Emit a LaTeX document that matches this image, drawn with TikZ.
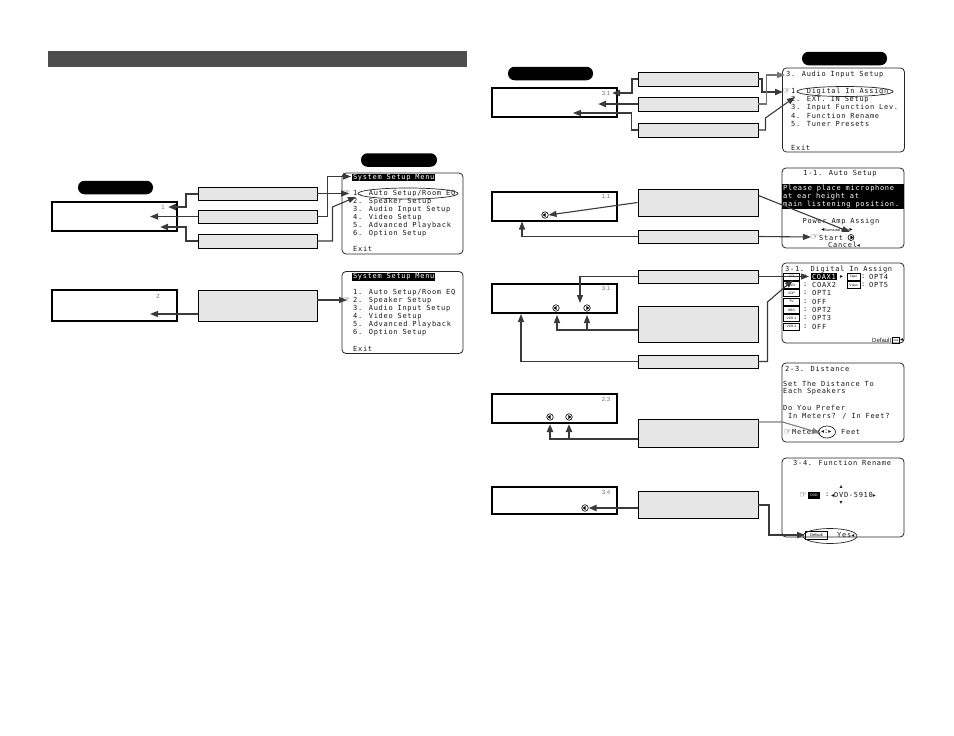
\documentclass[tikz,border=0pt]{standalone}
\usepackage{fontspec}
\setmainfont{Liberation Sans}
\setsansfont{Liberation Sans}
\newfontfamily\scr[LetterSpace=10]{DejaVu Sans Mono}
\newfontfamily\sym{DejaVu Sans}
\usetikzlibrary{arrows.meta,shapes.geometric,calc}
\definecolor{bar}{HTML}{4D4D4D}
\definecolor{boxgray}{HTML}{E6E6E6}
\definecolor{conn}{HTML}{3A3A3A}
\newcommand\myhand{{\sym\fontsize{8}{8}\selectfont ☞}}
\newcommand\mytri[1]{{\sym\fontsize{6}{6}\selectfont #1}}
\tikzset{
 gbox/.style={draw=black, fill=boxgray, line width=0.9pt, minimum width=120pt, inner sep=0},
 disp/.style={draw=black, fill=white, line width=1.1pt, minimum width=125pt, inner sep=0},
 pill/.style={fill=black, rounded corners=6.5pt, inner sep=0, minimum height=13.5pt},
 menu/.style={draw=black!85, line width=0.8pt, rounded corners=4pt, fill=white, minimum width=122pt, inner sep=0},
 st/.style={font=\scr\fontsize{7}{8}\selectfont, anchor=west, inner sep=0, text=black!90},
 stc/.style={st, anchor=center},
 hand/.style={anchor=west, inner sep=0, text=black},
 inv/.style={st, fill=black, text=white, inner xsep=0.8pt, inner ysep=0.6pt},
 num/.style={font=\sffamily\fontsize{6}{6}\selectfont, text=black!55, inner sep=0},
 lab/.style={draw=black, line width=0.5pt, font=\sffamily\fontsize{3.3}{4}\selectfont, inner sep=0, minimum width=16pt, minimum height=7pt},
 oval/.style={ellipse, draw=black!85, line width=0.7pt, inner sep=0},
 cthin/.style={draw=conn, line width=1.1pt, -{Triangle[length=8pt,width=6pt]}},
 cthick/.style={draw=conn, line width=2pt, -{Triangle[length=8pt,width=6pt]}},
 iconL/.style={circle, draw=black, line width=0.6pt, minimum size=6.5pt, inner sep=0, fill=white,
   path picture={\fill[black] (path picture bounding box.center) ++(-2.4pt,0) -- ++(3pt,2pt) -- ++(0,-4pt) -- cycle;}},
 iconR/.style={circle, draw=black, line width=0.6pt, minimum size=6.5pt, inner sep=0, fill=white,
   path picture={\fill[black] (path picture bounding box.center) ++(2.4pt,0) -- ++(-3pt,2pt) -- ++(0,-4pt) -- cycle;}},
}
\begin{document}
\begin{tikzpicture}[x=1pt,y=-1pt]
\useasboundingbox (0,0) rectangle (954,736);
\fill[white] (0,0) rectangle (954,736);
% title bar
\node[fill=bar, minimum width=419pt, minimum height=16pt, inner sep=0] (bar) at (257.5,59) {};
% pills
\node[pill, minimum width=76pt] (p1) at (399,160) {};
\node[pill, minimum width=75pt] (p2) at (115.5,187.5) {};
\node[pill, minimum width=85pt] (p3) at (844.5,58.5) {};
\node[pill, minimum width=85pt] (p4) at (550.5,73.5) {};
% displays
\node[disp, minimum height=29pt] (d1) at (114.5,216.5) {};
\node[disp, minimum height=31pt] (d2) at (114.5,305.5) {};
\node[disp, minimum height=29pt] (d3) at (554.5,102.5) {};
\node[disp, minimum height=29pt] (d4) at (554.5,206.5) {};
\node[disp, minimum height=29pt] (d5) at (554.5,298.5) {};
\node[disp, minimum height=29pt] (d6) at (554.5,408.5) {};
\node[disp, minimum height=27pt] (d7) at (554.5,500.5) {};
\node[num] (n1) at (163,207) {1};
\node[num] (n2) at (158,296) {2};
\node[num] (n3) at (606,93) {3.1};
\node[num] (n4) at (606,196) {1.1};
\node[num] (n5) at (606,288.5) {3.1};
\node[num] (n6) at (606,399) {2.3};
\node[num] (n7) at (606,492) {3.4};
% icons in displays
\node[iconL] (ic41) at (545,215) {};
\node[iconL] (ic51) at (556,308) {};
\node[iconR] (ic52) at (587,308) {};
\node[iconL] (ic61) at (550,417) {};
\node[iconR] (ic62) at (569,417) {};
\node[iconL] (ic71) at (585,508) {};
% gray boxes
\node[gbox, minimum width=119pt, minimum height=13pt] (g1a) at (257.5,193.5) {};
\node[gbox, minimum width=119pt, minimum height=13pt] (g1b) at (257.5,216.5) {};
\node[gbox, minimum width=119pt, minimum height=14pt] (g1c) at (257.5,241) {};
\node[gbox, minimum width=119pt, minimum height=31pt] (g2) at (257.5,305.5) {};
\node[gbox, minimum height=14pt] (g3a) at (698,79) {};
\node[gbox, minimum height=14pt] (g3b) at (698,104) {};
\node[gbox, minimum height=14pt] (g3c) at (698,130) {};
\node[gbox, minimum height=27pt] (g4a) at (698,202.5) {};
\node[gbox, minimum height=13pt] (g4b) at (698,236.5) {};
\node[gbox, minimum height=13pt] (g5a) at (698,276.5) {};
\node[gbox, minimum height=36pt] (g5b) at (698,324) {};
\node[gbox, minimum height=13pt] (g5c) at (698,361.5) {};
\node[gbox, minimum height=28pt] (g6) at (698,433) {};
\node[gbox, minimum height=27pt] (g7) at (698,504.5) {};
% menu frames
\node[menu, minimum width=121pt, minimum height=81pt] (m1) at (402.5,213.5) {};
\node[menu, minimum width=121pt, minimum height=82pt] (m2) at (402.5,312.5) {};
\node[menu, minimum height=84pt] (m3) at (843.5,110) {};
\node[menu, minimum height=80pt] (m4) at (843,208) {};
\node[menu, minimum height=80pt] (m5) at (843,303) {};
\node[menu, minimum height=79pt] (m6) at (843,402.5) {};
\node[menu, minimum height=79pt] (m7) at (843,497.5) {};
% menu 1
\node[inv] (m1t) at (352,177.5) {System Setup Menu};
\node[hand] (m1h) at (343,193.5) {\myhand};
\node[st] (m1a) at (353,193.5) {1. Auto Setup/Room EQ};
\node[oval, minimum width=100pt, minimum height=11pt] (m1o) at (408,193.5) {};
\node[st] (m1b) at (353,201.5) {2. Speaker Setup};
\node[st] (m1c) at (353,210) {3. Audio Input Setup};
\node[st] (m1d) at (353,218) {4. Video Setup};
\node[st] (m1e) at (353,226) {5. Advanced Playback};
\node[st] (m1f) at (353,234) {6. Option Setup};
\node[st] (m1x) at (353,249) {Exit};
% menu 2
\node[inv] (m2t) at (352,277) {System Setup Menu};
\node[st] (m2a) at (353,292.5) {1. Auto Setup/Room EQ};
\node[hand] (m2h) at (343,300.5) {\myhand};
\node[st] (m2b) at (353,300.5) {2. Speaker Setup};
\node[st] (m2c) at (353,309) {3. Audio Input Setup};
\node[st] (m2d) at (353,317) {4. Video Setup};
\node[st] (m2e) at (353,325) {5. Advanced Playback};
\node[st] (m2f) at (353,333) {6. Option Setup};
\node[st] (m2x) at (353,348.5) {Exit};
% menu 3
\node[st] (m3t) at (786,75) {3. Audio Input Setup};
\node[hand] (m3h) at (783,91.5) {\myhand};
\node[st] (m3a) at (791,91.5) {1. Digital In Assign};
\node[oval, minimum width=96pt, minimum height=10pt] (m3o) at (845,91.5) {};
\node[st] (m3b) at (791,99.5) {2. EXT. IN Setup};
\node[st] (m3c) at (791,107.5) {3. Input Function Lev.};
\node[st] (m3d) at (791,115.5) {4. Function Rename};
\node[st] (m3e) at (791,123.5) {5. Tuner Presets};
\node[st] (m3x) at (791,147.5) {Exit};
% menu 1-1
\node[stc] (m4t) at (840,174) {1-1. Auto Setup};
\node[fill=black, minimum width=122pt, minimum height=25.5pt, inner sep=0] (m4blk) at (843,196.5) {};
\node[st, text=white] (m4a) at (783,188.5) {Please place microphone};
\node[st, text=white] (m4b) at (783,196.5) {at ear height at};
\node[st, text=white] (m4c) at (783,204.5) {main listening position.};
\node[stc] (m4d) at (841,222) {Power Amp Assign};
\node[font=\sffamily\fontsize{3.8}{4}\selectfont, inner sep=0] (m4e) at (837,229.5) {\mytri{◂}Surround Back\mytri{▸}};
\node[hand] (m4h) at (811,237.5) {\myhand};
\node[st] (m4f) at (819,237.5) {Start};
\node[iconR, minimum size=6pt] (m4i) at (851,237.5) {};
\node[st] (m4g) at (828,245) {Cancel\mytri{◂}};
% menu 3-1
\node[st] (m5t) at (785,270) {3-1. Digital In Assign};
\node[lab] (l1) at (791.5,276.5) {CD};
\node[lab] (l2) at (791.5,285) {DVD};
\node[lab] (l3) at (791.5,293) {VDP};
\node[lab] (l4) at (791.5,301.5) {TV};
\node[lab] (l5) at (791.5,310) {DBS};
\node[lab] (l6) at (791.5,318) {VCR-1};
\node[lab] (l7) at (791.5,326.5) {VCR-2};
\node[st] (c1) at (803,276.5) {:};
\node[st] (c2) at (803,285) {:};
\node[st] (c3) at (803,293) {:};
\node[st] (c4) at (803,301.5) {:};
\node[st] (c5) at (803,310) {:};
\node[st] (c6) at (803,318) {:};
\node[st] (c7) at (803,326.5) {:};
\node[inv] (v1) at (811,276.5) {COAX1};
\node[st] (v1a) at (840,276.5) {\mytri{▸}};
\node[st] (v2) at (812,285) {COAX2};
\node[st] (v3) at (812,293) {OPT1};
\node[st] (v4) at (812,301.5) {OFF};
\node[st] (v5) at (812,310) {OPT2};
\node[st] (v6) at (812,318) {OPT3};
\node[st] (v7) at (812,326.5) {OFF};
\node[lab, minimum width=13pt] (l8) at (853.5,276.5) {Tape};
\node[lab, minimum width=13pt] (l9) at (853.5,285) {V.Aux};
\node[st] (c8) at (861,276.5) {:};
\node[st] (c9) at (861,285) {:};
\node[st] (v8) at (869,276.5) {OPT4};
\node[st] (v9) at (869,285) {OPT5};
\node[st, font=\sffamily\fontsize{6}{6}\selectfont] (m5d) at (872,340) {Default};
\node[lab, minimum width=7pt, minimum height=6pt, font=\sffamily\fontsize{3}{3}\selectfont] (m5y) at (896,340) {Yes};
\node[st] (m5z) at (900,340) {\mytri{◂}};
% menu 2-3
\node[st] (m6t) at (785,368.5) {2-3. Distance};
\node[st] (m6a) at (783,384) {Set The Distance To};
\node[st] (m6b) at (783,392) {Each Speakers};
\node[st] (m6c) at (783,408) {Do You Prefer};
\node[st] (m6d) at (788,416.5) {In Meters? / In Feet?};
\node[hand] (m6h) at (784,432) {\myhand};
\node[st] (m6e) at (792,432) {Meters};
\node[st] (m6f) at (821,432) {\mytri{◂}:\mytri{▸}};
\node[oval, minimum width=17pt, minimum height=12pt] (m6o) at (827,432) {};
\node[st] (m6g) at (841,432) {Feet};
% menu 3-4
\node[st] (m7t) at (793,463) {3-4. Function Rename};
\node[stc] (m7u) at (841,487) {\mytri{▴}};
\node[hand] (m7h) at (799.5,495) {\myhand};
\node[fill=black, text=white, font=\sffamily\fontsize{3.5}{4}\selectfont, minimum width=12pt, minimum height=7pt, inner sep=0] (m7b) at (814,495) {DVD};
\node[st] (m7c) at (825,495) {:};
\node[st] (m7v) at (831,495) {\mytri{◂}DVD-5910\mytri{▸}};
\node[stc] (m7w) at (841,503) {\mytri{▾}};
\node[lab, minimum width=22pt, minimum height=8pt, font=\sffamily\fontsize{4}{4}\selectfont] (m7d) at (816.5,535) {Default};
\node[st] (m7y) at (837,535) {Yes\mytri{◂}};
\node[oval, minimum width=54pt, minimum height=15pt] (m7o) at (830,536) {};
% connector end points
\coordinate (t1a) at (168,207);
\coordinate (t1b) at (150,216.5);
\coordinate (t1c) at (160,227);
\coordinate (t1d) at (349,193.5);
\coordinate (t1e) at (351,176.5);
\coordinate (t1f) at (356,197);
\coordinate (t2a) at (150,314);
\coordinate (t2b) at (347,300);
\coordinate (t3a) at (612,93);
\coordinate (t3b) at (598,104);
\coordinate (t3c) at (573,113);
\coordinate (t3d) at (783,92);
\coordinate (t3e) at (785,75);
\coordinate (t3f) at (795,97);
\coordinate (t4b) at (522,221.5);
\coordinate (t4c) at (850,232);
\coordinate (t4d) at (811,237);
\coordinate (t5a) at (580,303);
\coordinate (t5b) at (557,315);
\coordinate (j5) at (587,330);
\coordinate (t5c) at (587,315);
\coordinate (t5d) at (521,314);
\coordinate (t5e) at (809,276.5);
\coordinate (t5f) at (793,280);
\coordinate (t6a) at (550,424);
\coordinate (j6) at (569,439);
\coordinate (t6b) at (569,424);
\coordinate (t6c) at (820,433);
\coordinate (t7b) at (805,535);
% connectors group 1
\draw[cthick] (g1a.west) -- ++(-12,0) |- (t1a);
\draw[cthin, line width=1.4pt] (g1b.west) -- (t1b);
\draw[cthick] (g1c.west) -- ++(-12,0) |- (t1c);
\draw[cthin] (g1a.east) -- (t1d);
\draw[cthin] (g1b.east) -- ++(10,0) |- (t1e);
\draw[cthin] (g1c.east) -- ++(15,0) -- ++(0,-34) -- (t1f);
% group 2
\draw[cthin, line width=1.4pt] ([yshift=-8.5pt]g2.west) -- (t2a);
\draw[cthin, line width=1.4pt] ([yshift=5.5pt]g2.east) -- (t2b);
% top right
\draw[cthick] (g3a.west) -- ++(-6,0) |- (t3a);
\draw[cthick] (g3b.west) -- (t3b);
\draw[cthin] (g3c.west) -- ++(-6,0) |- (t3c);
\draw[cthick] (g3a.east) -- ++(4,0) |- (t3d);
\draw[cthin, line width=1.5pt, draw=black!55] (g3b.east) -- ++(8,0) |- (t3e);
\draw[cthin] (g3c.east) -- ++(7,0) -- ++(0,-12) -- (t3f);
% row 2
\draw[cthin] (g4a.west) -- (ic41.east);
\draw[cthin] (g4b.west) -| (t4b);
\draw[cthin] ([yshift=7pt]g4a.east) -- (t4c);
\draw[cthin] (g4b.east) -- (t4d);
% row 3
\draw[cthin] (g5a.west) -| (t5a);
\draw[cthin] ([yshift=-6pt]g5b.west) -| (t5b);
\draw[cthin] (j5) -- (t5c);
\draw[cthin] (g5c.west) -| (t5d);
\draw[cthin] (g5a.east) -- (t5e);
\draw[cthin] (g5c.east) -- ++(9,0) -- ++(0,-59.5) -- (t5f);
% row 4
\draw[cthick] ([yshift=-6pt]g6.west) -| (t6a);
\draw[cthick] (j6) -- (t6b);
\draw[cthin, draw=black!50] ([yshift=11pt]g6.east) -- ++(24,0) -- (t6c);
% row 5
\draw[cthick] ([yshift=-3.5pt]g7.west) -- (ic71.east);
\draw[cthick] (g7.east) -- ++(11,0) |- (t7b);
\end{tikzpicture}
\end{document}
